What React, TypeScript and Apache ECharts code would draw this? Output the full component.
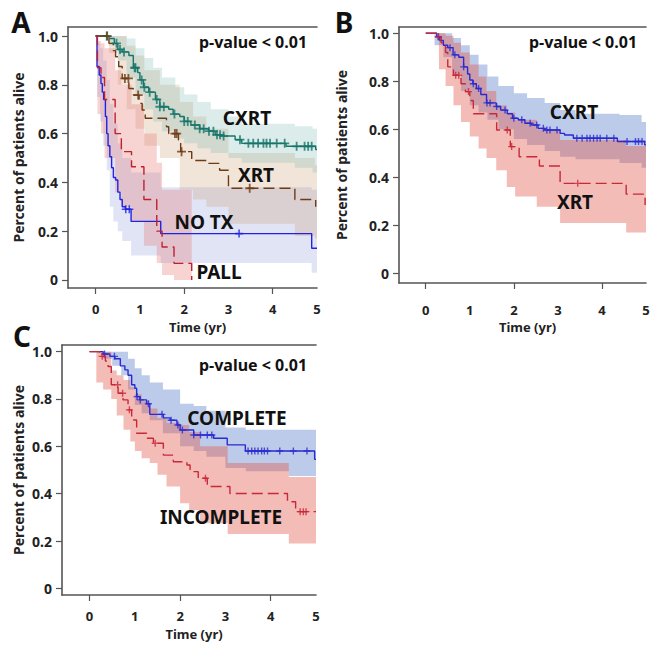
import React, { useEffect, useRef } from 'react';
import * as echarts from 'echarts';

// ---------- Panel A ----------
const A_CXRT_T = [0, 0.3, 0.42, 0.5, 0.6, 0.75, 0.85, 0.95, 1.0, 1.08, 1.2, 1.35, 1.45, 1.65, 1.75, 1.9, 2.0, 2.15, 2.35, 2.55, 2.7, 2.85, 3.15, 3.3, 4.3, 4.97, 5.0];
const A_CXRT_S = [1.0, 0.99, 0.97, 0.945, 0.935, 0.92, 0.87, 0.85, 0.82, 0.79, 0.77, 0.74, 0.71, 0.7, 0.68, 0.67, 0.65, 0.635, 0.62, 0.61, 0.595, 0.59, 0.575, 0.56, 0.548, 0.535, 0.535];
const A_CXRT_CENS = [0.25, 0.47, 0.55, 0.64, 0.88, 0.9, 1.04, 1.1, 1.22, 1.38, 1.45, 1.54, 1.78, 2.0, 2.08, 2.24, 2.35, 2.44, 2.56, 2.66, 2.74, 2.81, 2.89, 3.26, 3.45, 3.56, 3.67, 3.79, 3.86, 3.94, 4.09, 4.27, 4.54, 4.72, 4.8, 4.88];
const A_XRT_T = [0, 0.3, 0.4, 0.45, 0.52, 0.6, 0.75, 0.85, 0.98, 1.05, 1.12, 1.6, 1.65, 1.87, 1.92, 2.17, 2.5, 2.8, 3.0, 4.5, 4.97];
const A_XRT_S = [1, 0.97, 0.94, 0.915, 0.875, 0.826, 0.785, 0.758, 0.724, 0.697, 0.663, 0.628, 0.6, 0.574, 0.526, 0.49, 0.478, 0.45, 0.376, 0.33, 0.3];
const A_XRT_CENS = [0.26, 0.66, 0.74, 0.96, 1.79, 1.83, 1.94, 3.48];
const A_NOTX_T = [0, 0.03, 0.08, 0.12, 0.15, 0.18, 0.22, 0.25, 0.28, 0.32, 0.36, 0.4, 0.45, 0.5, 0.55, 0.6, 0.67, 0.8, 1.47, 4.88, 5.0];
const A_NOTX_S = [1, 0.875, 0.84, 0.805, 0.77, 0.74, 0.67, 0.6, 0.55, 0.505, 0.46, 0.42, 0.41, 0.36, 0.33, 0.3, 0.29, 0.24, 0.19, 0.13, 0.13];
const A_NOTX_CENS = [0.68, 0.76, 3.24];
const A_PALL_T = [0, 0.04, 0.12, 0.2, 0.44, 0.58, 0.81, 1.09, 1.38, 1.5, 1.77, 2.17];
const A_PALL_S = [1, 0.87, 0.83, 0.74, 0.6, 0.526, 0.464, 0.33, 0.2, 0.135, 0.068, 0];

const A_CXRT_BAND_T = [0, 0.3, 0.5, 0.7, 0.9, 1.1, 1.3, 1.5, 1.8, 2.0, 2.3, 2.6, 3.0, 3.3, 4.5, 4.9];
const A_CXRT_BAND_LO = [1.0, 0.96, 0.9, 0.83, 0.76, 0.7, 0.65, 0.61, 0.58, 0.56, 0.54, 0.52, 0.5, 0.48, 0.46, 0.44];
const A_CXRT_BAND_HI = [1.0, 1.0, 1.0, 0.99, 0.95, 0.91, 0.87, 0.83, 0.79, 0.76, 0.73, 0.7, 0.67, 0.64, 0.63, 0.62];
const A_XRT_BAND_T = [0, 0.3, 0.5, 0.7, 0.9, 1.1, 1.45, 1.9, 2.2, 2.5, 3.0, 4.5, 4.95];
const A_XRT_BAND_LO = [1.0, 0.93, 0.8, 0.7, 0.62, 0.55, 0.5, 0.37, 0.33, 0.3, 0.23, 0.18, 0.17];
const A_XRT_BAND_HI = [1.0, 1.0, 1.0, 0.96, 0.92, 0.86, 0.8, 0.73, 0.67, 0.62, 0.52, 0.5, 0.47];
const A_NOTX_BAND_T = [0, 0.03, 0.1, 0.17, 0.25, 0.32, 0.4, 0.5, 0.6, 0.8, 1.47, 4.88];
const A_NOTX_BAND_LO = [1.0, 0.75, 0.65, 0.55, 0.45, 0.3, 0.24, 0.2, 0.16, 0.1, 0.07, 0.03];
const A_NOTX_BAND_HI = [1.0, 0.97, 0.95, 0.9, 0.82, 0.72, 0.64, 0.56, 0.5, 0.44, 0.38, 0.37];
const A_PALL_BAND_T = [0, 0.04, 0.12, 0.2, 0.44, 0.58, 0.81, 1.09, 1.38, 1.5, 1.77];
const A_PALL_BAND_LO = [1.0, 0.68, 0.6, 0.5, 0.36, 0.3, 0.24, 0.14, 0.07, 0.02, 0.0];
const A_PALL_BAND_HI = [1.0, 0.98, 0.97, 0.95, 0.86, 0.8, 0.72, 0.6, 0.48, 0.37, 0.37];

// ---------- Panel B ----------
const B_CXRT_T = [0, 0.25, 0.32, 0.4, 0.5, 0.62, 0.75, 0.86, 0.95, 1.0, 1.07, 1.15, 1.25, 1.38, 1.6, 1.7, 1.85, 1.97, 2.1, 2.25, 2.4, 2.55, 2.7, 3.05, 3.15, 3.35, 4.35, 4.97, 5.0];
const B_CXRT_S = [1, 0.985, 0.97, 0.95, 0.94, 0.91, 0.9, 0.86, 0.83, 0.805, 0.79, 0.77, 0.745, 0.71, 0.695, 0.68, 0.665, 0.646, 0.64, 0.625, 0.618, 0.604, 0.597, 0.583, 0.576, 0.563, 0.549, 0.535, 0.535];
const B_CXRT_CENS = [0.29, 0.55, 0.66, 0.86, 1.08, 1.2, 1.39, 1.46, 1.61, 1.8, 2.0, 2.18, 2.37, 2.52, 2.67, 2.75, 2.82, 2.98, 3.43, 3.55, 3.66, 3.73, 3.81, 3.89, 3.96, 4.11, 4.27, 4.57, 4.76, 4.83, 4.91];
const B_XRT_T = [0, 0.25, 0.35, 0.45, 0.5, 0.63, 0.8, 0.9, 1.0, 1.08, 1.61, 1.92, 2.12, 2.58, 3.05, 4.55, 4.98];
const B_XRT_S = [1, 0.985, 0.96, 0.92, 0.86, 0.825, 0.79, 0.757, 0.72, 0.665, 0.597, 0.528, 0.486, 0.447, 0.375, 0.33, 0.285];
const B_XRT_CENS = [0.28, 0.68, 0.75, 0.97, 1.85, 1.95, 3.45];

const B_CXRT_BAND_T = [0, 0.2, 0.4, 0.6, 0.8, 1.0, 1.2, 1.4, 1.65, 2.0, 2.3, 2.7, 3.05, 3.4, 4.4, 4.9];
const B_CXRT_BAND_LO = [1, 0.95, 0.9, 0.83, 0.76, 0.7, 0.67, 0.64, 0.6, 0.56, 0.535, 0.51, 0.486, 0.475, 0.46, 0.44];
const B_CXRT_BAND_HI = [1, 1, 1, 0.98, 0.95, 0.91, 0.87, 0.82, 0.78, 0.75, 0.73, 0.71, 0.68, 0.665, 0.66, 0.63];
const B_XRT_BAND_T = [0, 0.3, 0.45, 0.63, 0.8, 1.0, 1.2, 1.38, 1.6, 1.84, 2.03, 2.52, 3.05, 4.55];
const B_XRT_BAND_LO = [1, 0.85, 0.78, 0.7, 0.63, 0.57, 0.52, 0.48, 0.43, 0.36, 0.32, 0.277, 0.21, 0.17];
const B_XRT_BAND_HI = [1, 1, 0.99, 0.96, 0.92, 0.87, 0.82, 0.76, 0.7, 0.67, 0.64, 0.6, 0.555, 0.53];

// ---------- Panel C ----------
const C_COMP_T = [0, 0.3, 0.45, 0.56, 0.68, 0.78, 0.85, 0.93, 1.0, 1.04, 1.11, 1.26, 1.33, 1.63, 1.78, 1.93, 2.0, 2.3, 2.74, 3.04, 3.44, 4.97, 5.0];
const C_COMP_S = [1, 0.99, 0.98, 0.97, 0.94, 0.923, 0.9, 0.86, 0.845, 0.81, 0.796, 0.78, 0.735, 0.72, 0.71, 0.69, 0.669, 0.648, 0.634, 0.606, 0.58, 0.545, 0.545];
const C_COMP_CENS = [0.33, 0.55, 1.05, 1.12, 1.3, 1.6, 1.8, 1.95, 2.05, 2.3, 2.45, 2.6, 2.7, 3.5, 3.58, 3.65, 3.72, 3.8, 3.86, 3.93, 4.2, 4.5, 4.8];
const C_INC_T = [0, 0.22, 0.35, 0.41, 0.48, 0.63, 0.74, 0.85, 0.93, 1.04, 1.26, 1.41, 1.63, 1.85, 2.15, 2.22, 2.4, 2.6, 3.1, 4.37, 4.55, 5.0];
const C_INC_S = [1, 0.98, 0.96, 0.937, 0.86, 0.824, 0.796, 0.754, 0.711, 0.655, 0.634, 0.613, 0.563, 0.535, 0.521, 0.493, 0.465, 0.43, 0.401, 0.366, 0.324, 0.324];
const C_INC_CENS = [0.28, 0.62, 0.73, 0.88, 1.45, 2.56, 4.65, 4.72, 4.78];

const C_COMP_BAND_T = [0, 0.3, 0.5, 0.7, 0.85, 1.0, 1.15, 1.33, 1.62, 2.0, 2.3, 2.58, 3.0, 3.45, 4.4];
const C_COMP_BAND_LO = [1, 0.97, 0.94, 0.9, 0.84, 0.775, 0.74, 0.71, 0.655, 0.6, 0.58, 0.556, 0.508, 0.495, 0.475];
const C_COMP_BAND_HI = [1, 1, 1, 1, 0.97, 0.93, 0.9, 0.87, 0.84, 0.78, 0.77, 0.75, 0.68, 0.67, 0.67];
const C_INC_BAND_T = [0, 0.15, 0.3, 0.48, 0.6, 0.75, 0.9, 1.0, 1.15, 1.33, 1.5, 1.7, 2.0, 2.2, 2.44, 3.05, 4.4];
const C_INC_BAND_LO = [1, 0.87, 0.84, 0.8, 0.73, 0.67, 0.62, 0.58, 0.55, 0.53, 0.48, 0.43, 0.36, 0.33, 0.275, 0.23, 0.19];
const C_INC_BAND_HI = [1, 1, 1, 0.92, 0.9, 0.88, 0.85, 0.82, 0.79, 0.76, 0.72, 0.7, 0.69, 0.66, 0.6, 0.53, 0.47];

const X_LABELS = [0, 1, 2, 3, 4, 5];
const X_TICKS = [0, 2, 4];
const Y_TICKS = [0, 0.2, 0.4, 0.6, 0.8, 1.0];

const FONT = '"Noto Sans", "DejaVu Sans", sans-serif';
const AXIS_COLOR = '#555555';
const CROSS = 'path://M4,0L6,0L6,4L10,4L10,6L6,6L6,10L4,10L4,6L0,6L0,4L4,4Z';

function survAt(ts: number[], ss: number[], t: number) {
  let v = ss[0];
  for (let i = 0; i < ts.length; i++) if (ts[i] <= t) v = ss[i];
  return v;
}

function lineSeries(ts: number[], ss: number[], color: string, dashed: boolean, g: number) {
  return {
    type: 'line', step: 'end', xAxisIndex: 2 * g, yAxisIndex: g, showSymbol: false, symbol: 'none',
    silent: true, z: 4,
    data: ts.map((t, i) => [t, ss[i]]),
    lineStyle: { color, width: 1.4, type: dashed ? [11, 5] : 'solid' },
  };
}

function censSeries(ts: number[], ss: number[], cens: number[], color: string, g: number, size: number) {
  return {
    type: 'scatter', xAxisIndex: 2 * g, yAxisIndex: g, silent: true, z: 5,
    symbol: CROSS, symbolSize: size,
    data: cens.map((t) => [t, survAt(ts, ss, t)]),
    itemStyle: { color },
  };
}

function bandSeries(ts: number[], lo: number[], hi: number[], tEnd: number, color: string, g: number) {
  return {
    type: 'custom', xAxisIndex: 2 * g, yAxisIndex: g, silent: true, z: 1,
    data: [[ts[0], lo[0]]],
    renderItem: (_params: any, api: any) => {
      const pts: number[][] = [];
      for (let i = 0; i < ts.length; i++) {
        const t1 = i + 1 < ts.length ? ts[i + 1] : tEnd;
        pts.push(api.coord([ts[i], hi[i]]));
        pts.push(api.coord([t1, hi[i]]));
      }
      for (let i = ts.length - 1; i >= 0; i--) {
        const t1 = i + 1 < ts.length ? ts[i + 1] : tEnd;
        pts.push(api.coord([t1, lo[i]]));
        pts.push(api.coord([ts[i], lo[i]]));
      }
      return { type: 'polygon', shape: { points: pts }, style: { fill: color } };
    },
  };
}

function xAxes(g: number, min: number, labelMargin: number, nameGap: number) {
  return [
    {
      type: 'value', gridIndex: g, min, max: 5, position: 'bottom',
      axisLine: { show: true, onZero: false, lineStyle: { color: AXIS_COLOR, width: 1.6 } },
      axisTick: { show: true, customValues: X_TICKS, inside: false, length: 6, lineStyle: { color: AXIS_COLOR, width: 1.2 } },
      axisLabel: { show: true, customValues: X_LABELS, margin: labelMargin, color: '#222', fontFamily: FONT, fontWeight: 'bold', fontSize: 13, lineHeight: 13 },
      splitLine: { show: false },
      name: 'Time (yr)', nameLocation: 'middle', nameGap,
      nameTextStyle: { color: '#222', fontFamily: FONT, fontWeight: 'bold', fontSize: 13, lineHeight: 13, padding: [0, 0, 0, 10] },
    },
    {
      type: 'value', gridIndex: g, min, max: 5, position: 'top',
      axisLine: { show: true, onZero: false, lineStyle: { color: AXIS_COLOR, width: 1.6 } },
      axisTick: { show: false }, axisLabel: { show: false }, splitLine: { show: false },
    },
  ];
}

function yAxis(g: number, min: number, max: number, nameGap: number) {
  return {
    type: 'value', gridIndex: g, min, max,
    axisLine: { show: true, onZero: false, lineStyle: { color: AXIS_COLOR, width: 1.6 } },
    axisTick: { show: true, customValues: Y_TICKS, length: 6, lineStyle: { color: AXIS_COLOR, width: 1.2 } },
    axisLabel: {
      show: true, customValues: Y_TICKS, margin: 10, color: '#222', fontFamily: FONT, fontWeight: 'bold', fontSize: 14,
      formatter: (v: number) => (Math.abs(v) < 1e-9 ? '0' : v.toFixed(1)),
    },
    splitLine: { show: false },
    name: 'Percent of patients alive', nameLocation: 'middle', nameGap,
    nameTextStyle: { color: '#222', fontFamily: FONT, fontWeight: 'bold', fontSize: 14 },
  };
}

function txt(text: string, x: number, y: number, size: number) {
  return {
    type: 'text', x, y, silent: true, z: 10,
    style: {
      text, fill: '#111', font: `bold ${size}px ${FONT}`,
      align: 'center', verticalAlign: 'middle', textAlign: 'center', textVerticalAlign: 'middle',
    },
  };
}

export default function App() {
  const ref = useRef<HTMLDivElement>(null);
  useEffect(() => {
    if (!ref.current) return;
    const chart = echarts.init(ref.current, undefined, { renderer: 'svg' });

    const teal = '#17766a', brown = '#6e3b14', blueA = '#2222e0', redA = '#c0202e';
    const blue = '#2a2ad0', red = '#c8283a';
    const teBand = 'rgba(118,182,172,0.26)', tanBand = 'rgba(205,158,118,0.28)';
    const nbBand = 'rgba(127,143,215,0.24)', pkBand = 'rgba(228,112,105,0.30)';
    const blBand = 'rgba(90,125,202,0.40)', rdBand = 'rgba(227,87,72,0.40)';

    const option: any = {
      animation: false,
      grid: [
        { left: 68, top: 27, width: 249, height: 261 },
        { left: 399, top: 27, width: 247, height: 256 },
        { left: 62, top: 345, width: 254, height: 250 },
      ],
      xAxis: [...xAxes(0, -0.625, 14, 32), ...xAxes(1, -0.607, 20, 37), ...xAxes(2, -0.608, 14, 32)],
      yAxis: [yAxis(0, -0.033, 1.037, 43), yAxis(1, -0.04, 1.026, 51), yAxis(2, -0.028, 1.028, 37)],
      series: [
        bandSeries(A_NOTX_BAND_T, A_NOTX_BAND_LO, A_NOTX_BAND_HI, 5.0, nbBand, 0),
        bandSeries(A_XRT_BAND_T, A_XRT_BAND_LO, A_XRT_BAND_HI, 5.0, tanBand, 0),
        bandSeries(A_CXRT_BAND_T, A_CXRT_BAND_LO, A_CXRT_BAND_HI, 5.0, teBand, 0),
        bandSeries(A_PALL_BAND_T, A_PALL_BAND_LO, A_PALL_BAND_HI, 2.17, pkBand, 0),
        lineSeries(A_CXRT_T, A_CXRT_S, teal, false, 0),
        lineSeries(A_XRT_T, A_XRT_S, brown, true, 0),
        lineSeries(A_NOTX_T, A_NOTX_S, blueA, false, 0),
        lineSeries(A_PALL_T, A_PALL_S, redA, true, 0),
        censSeries(A_CXRT_T, A_CXRT_S, A_CXRT_CENS, teal, 0, 9),
        censSeries(A_XRT_T, A_XRT_S, A_XRT_CENS, brown, 0, 9),
        censSeries(A_NOTX_T, A_NOTX_S, A_NOTX_CENS, blueA, 0, 8),

        bandSeries(B_CXRT_BAND_T, B_CXRT_BAND_LO, B_CXRT_BAND_HI, 5.0, blBand, 1),
        bandSeries(B_XRT_BAND_T, B_XRT_BAND_LO, B_XRT_BAND_HI, 5.0, rdBand, 1),
        lineSeries(B_CXRT_T, B_CXRT_S, blue, false, 1),
        lineSeries(B_XRT_T, B_XRT_S, red, true, 1),
        censSeries(B_CXRT_T, B_CXRT_S, B_CXRT_CENS, blue, 1, 7),
        censSeries(B_XRT_T, B_XRT_S, B_XRT_CENS, red, 1, 7),

        bandSeries(C_COMP_BAND_T, C_COMP_BAND_LO, C_COMP_BAND_HI, 5.0, blBand, 2),
        bandSeries(C_INC_BAND_T, C_INC_BAND_LO, C_INC_BAND_HI, 5.0, rdBand, 2),
        lineSeries(C_COMP_T, C_COMP_S, blue, false, 2),
        lineSeries(C_INC_T, C_INC_S, red, true, 2),
        censSeries(C_COMP_T, C_COMP_S, C_COMP_CENS, blue, 2, 7),
        censSeries(C_INC_T, C_INC_S, C_INC_CENS, red, 2, 7),
      ],
      graphic: [
        txt('A', 21, 22, 28),
        txt('p-value < 0.01', 253, 42, 16),
        txt('CXRT', 247, 118, 19),
        txt('XRT', 256, 175, 19),
        txt('NO TX', 204, 222, 19),
        txt('PALL', 219, 272, 19),
        txt('B', 344, 22, 28),
        txt('p-value < 0.01', 583, 42, 16),
        txt('CXRT', 574, 112, 19),
        txt('XRT', 575, 202, 19),
        txt('C', 22, 336, 28),
        txt('p-value < 0.01', 253, 365, 16),
        txt('COMPLETE', 237, 418, 19),
        txt('INCOMPLETE', 221, 517, 19),
      ],
    };
    chart.setOption(option);
    return () => chart.dispose();
  }, []);
  return <div ref={ref} style={{ position: 'fixed', left: 0, top: 0, width: 662, height: 651, background: '#fff' }} />;
}
